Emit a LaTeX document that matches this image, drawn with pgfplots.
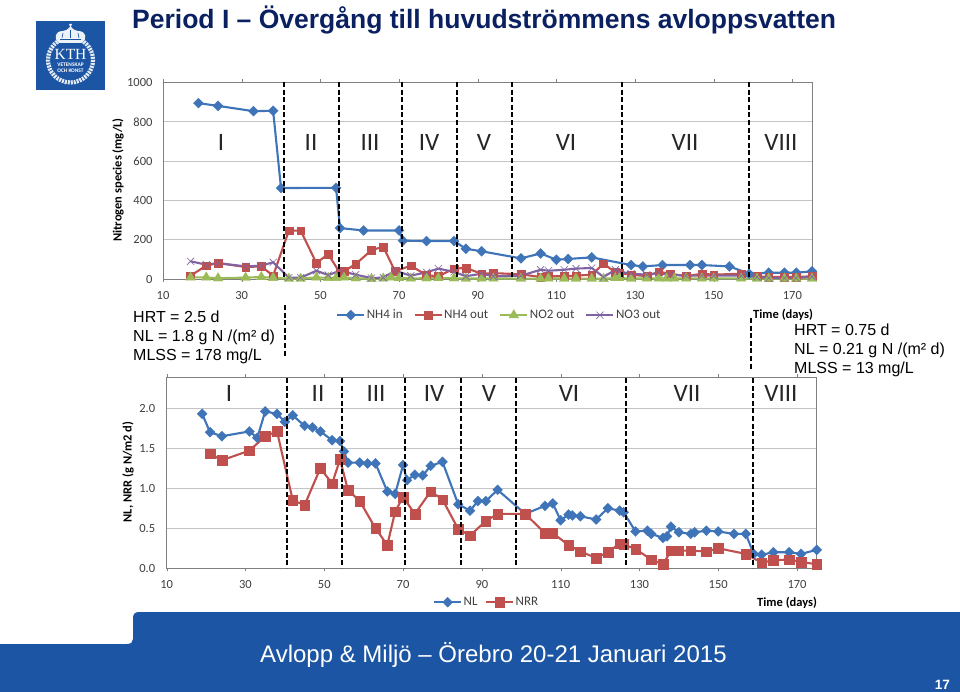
\documentclass[border=0pt]{standalone}
\usepackage{fontspec}
\usepackage{pgfplots}
\pgfplotsset{compat=1.18}
\setmainfont{Carlito}
\newfontfamily\arial{Liberation Sans}
\definecolor{kthblue}{HTML}{1C55A3}
\definecolor{navy}{HTML}{0A2060}
\definecolor{cblue}{HTML}{3F75B8}
\definecolor{cred}{HTML}{C0504D}
\definecolor{cgreen}{HTML}{9BBB59}
\definecolor{cpurple}{HTML}{8064A2}
\definecolor{axgray}{HTML}{808080}
\definecolor{gridgray}{HTML}{C4C4C4}
\definecolor{ticktext}{HTML}{404040}
\pgfplotsset{
  chartbase/.style={
    scale only axis, clip=false,
    xmin=10, xmax=175,
    xtick={10,30,50,70,90,110,130,150,170},
    tick align=outside, major tick length=3pt,
    ytick style={draw=none},
    xtick style={axgray},
    axis line style={axgray, line width=0.8pt},
    ymajorgrids, grid style={gridgray, line width=0.9pt},
    tick label style={font=\fontsize{12.5}{14}\selectfont, text=ticktext},
    /pgf/number format/assume math mode=true,
    /pgf/number format/1000 sep={},
    xticklabel style={/pgf/number format/precision=0, /pgf/number format/fixed, yshift=-6pt},
    legend cell align=left,
    legend style={draw=none, fill=none, inner sep=0pt, font=\fontsize{13}{14}\selectfont, text=ticktext,
      nodes={inner xsep=1.5pt}},
    line legend,
    legend image code/.code={\draw[mark repeat=2,mark phase=2,##1] plot coordinates {(0pt,0pt)(13.5pt,0pt)(27pt,0pt)};},
  },
  sblue/.style={cblue, line width=2.1pt, mark=diamond*, mark size=#1, mark options={fill=cblue, draw=cblue, xscale=1.33, line width=0.3pt, solid}},
  sred/.style={cred, line width=2.1pt, mark=square*, mark size=#1, mark options={fill=cred, draw=cred, line width=0.3pt, solid}},
  sgreen/.style={cgreen, line width=2.1pt, mark=triangle*, mark size=5.6pt, mark options={fill=cgreen, draw=cgreen, line width=0.3pt, solid}},
  spurple/.style={cpurple, line width=2.1pt, mark=x, mark size=5pt, mark options={draw=cpurple, line width=0.6pt, solid}},
}
\begin{document}
\begin{tikzpicture}
% canvas and furniture
\begin{scope}[x=1pt,y=-1pt]
\path[use as bounding box, fill=white] (0,0) rectangle (960,692);
\fill[kthblue] (0,692) -- (0,644) -- (127,644) .. controls (131,644) and (133,642) .. (133,639) -- (133,618) .. controls (133,614) and (135,612) .. (139,612) -- (960,612) -- (960,692) -- cycle;
\node[anchor=base west, inner sep=0pt, text=navy, font={\arial\bfseries\fontsize{26.5}{30}\selectfont}] at (132,29) {Period I – Övergång till huvudströmmens avloppsvatten};
\node[anchor=base west, inner sep=0pt, text=white, font={\arial\fontsize{24}{26}\selectfont}] at (260,662) {Avlopp \& Miljö – Örebro 20-21 Januari 2015};
\node[anchor=base east, inner sep=0pt, text=white, font={\arial\bfseries\fontsize{13.5}{15}\selectfont}] at (950,689) {17};
% logo
\fill[kthblue] (36,21) rectangle (105,90);
\draw[white!88!kthblue, line width=4.2pt, dash pattern=on 2pt off 1pt] (70.5,60) circle[radius=22.5];
\fill[white!92!kthblue] (59,43) .. controls (53,38) and (55,31) .. (63,31) .. controls (66,30) and (68,30) .. (70,27) -- (69,24) -- (72,24) -- (71,27) .. controls (73,30) and (75,30) .. (78,31) .. controls (86,31) and (88,38) .. (82,43) -- cycle;
\draw[kthblue, line width=0.6pt] (60,39.5) -- (81,39.5) (63,33) -- (62,38) (70.5,30) -- (70.5,38) (78,33) -- (79,38);
\node[text=white, inner sep=0pt, font={\fontspec{Liberation Serif}\fontsize{15.5}{15}\selectfont}] at (70.5,54) {KTH};
\node[text=white, inner sep=0pt, font={\bfseries\fontsize{5.4}{6}\selectfont}] at (70.5,64.5) {VETENSKAP};
\node[text=white, inner sep=0pt, font={\bfseries\fontsize{5.4}{6}\selectfont}] at (70.5,70.5) {OCH KONST};
\end{scope}

% upper chart
\begin{axis}[chartbase, at={(163pt,-279pt)}, anchor=south west, width=649pt, height=196.5pt,
  ymin=0, ymax=1000, ytick={0,200,400,600,800,1000},
  yticklabel style={xshift=-4pt},
  legend columns=4,
  legend style={at={(axis description cs:0.2665,-0.184)}, anchor=west,
    /tikz/every even column/.append style={column sep=9.5pt}},
]
\addplot[sblue={5pt}] coordinates {(19,895)(24,881)(33,854)(38,856)(40,463)(54,464)(55,259)(61,247)(70,247)(71,195)(77,193)(84,193)(87,154)(91,141)(101,105)(106,130)(110,98)(113,102)(119,110)(129,71)(132,64)(137,71)(144,71)(147,71)(154,64)(159,27)(164,32)(168,32)(171,32)(175,39)};
\addplot[sred={3.9pt}] coordinates {(17,17)(21,68)(24,81)(31,61)(35,64)(38,17)(42,246)(45,246)(49,81)(52,127)(55,30)(56,39)(59,76)(63,147)(66,164)(69,39)(73,68)(77,19)(80,14)(84,53)(87,56)(91,27)(94,30)(101,24)(106,10)(108,14)(112,14)(115,17)(119,22)(122,78)(125,34)(126,30)(129,22)(133,14)(136,37)(139,27)(143,14)(147,27)(150,22)(157,27)(161,14)(164,10)(168,10)(171,10)(175,14)};
\addplot[sgreen] coordinates {(17,8)(21,8)(24,4)(31,7)(35,10)(38,6)(42,2)(45,2)(49,8)(52,6)(54,6)(56,8)(59,4)(63,1)(66,3)(68,8)(70,5)(73,3)(77,4)(80,5)(84,4)(87,2)(91,3)(94,3)(101,2)(106,2)(108,3)(112,2)(115,2)(119,2)(122,1)(125,5)(126,5)(129,2)(133,3)(136,3)(138,3)(140,3)(143,3)(147,3)(150,3)(157,3)(161,2)(164,2)(168,2)(171,2)(175,2)};
\addplot[spurple] coordinates {(17,90)(21,73)(24,81)(31,64)(35,68)(38,85)(42,7)(45,7)(49,42)(52,20)(55,42)(59,22)(63,5)(66,7)(69,42)(73,17)(77,34)(80,53)(84,36)(87,14)(91,27)(94,14)(101,17)(106,47)(108,42)(112,47)(115,53)(119,56)(122,10)(125,47)(126,38)(129,27)(133,22)(136,30)(139,22)(143,17)(147,17)(150,17)(157,17)(161,10)(164,5)(168,5)(171,5)(175,12)};
\legend{NH4 in,NH4 out,NO2 out,NO3 out}
\end{axis}

% lower chart
\begin{axis}[chartbase, at={(166.7pt,-568.3pt)}, anchor=south west, width=650pt, height=191.3pt,
  ymin=0, ymax=2.39, ytick={0,0.5,1,1.5,2},
  yticklabel style={xshift=-5pt, /pgf/number format/fixed, /pgf/number format/fixed zerofill, /pgf/number format/precision=1},
  legend columns=2,
  legend style={at={(axis description cs:0.4095,-0.177)}, anchor=west,
    /tikz/every even column/.append style={column sep=6pt}},
]
\addplot[sblue={5pt}] coordinates {(19,1.93)(21,1.70)(24,1.65)(31,1.71)(33,1.63)(35,1.96)(38,1.93)(40,1.83)(42,1.91)(45,1.78)(47,1.76)(49,1.71)(52,1.60)(54,1.59)(55,1.46)(56,1.32)(59,1.32)(61,1.31)(63,1.31)(66,0.96)(68,0.93)(70,1.29)(71,1.10)(73,1.17)(75,1.16)(77,1.28)(80,1.33)(84,0.80)(87,0.72)(89,0.84)(91,0.84)(94,0.98)(101,0.68)(106,0.78)(108,0.81)(110,0.60)(112,0.67)(113,0.66)(115,0.65)(119,0.61)(122,0.75)(125,0.72)(126,0.70)(129,0.46)(132,0.47)(133,0.43)(136,0.38)(137,0.40)(138,0.52)(140,0.45)(143,0.43)(144,0.45)(147,0.47)(150,0.46)(154,0.43)(157,0.43)(159,0.18)(161,0.17)(164,0.20)(168,0.20)(171,0.18)(175,0.23)};
\addplot[sred={4.8pt}] coordinates {(21,1.43)(24,1.35)(31,1.47)(35,1.65)(38,1.71)(42,0.85)(45,0.79)(49,1.25)(52,1.06)(54,1.36)(56,0.98)(59,0.84)(63,0.50)(66,0.29)(68,0.71)(70,0.89)(73,0.68)(77,0.96)(80,0.86)(84,0.49)(87,0.41)(91,0.59)(94,0.68)(101,0.68)(106,0.44)(108,0.44)(112,0.29)(115,0.21)(119,0.13)(122,0.20)(125,0.31)(126,0.30)(129,0.24)(133,0.11)(136,0.05)(138,0.22)(140,0.22)(143,0.22)(147,0.21)(150,0.25)(157,0.18)(161,0.07)(164,0.10)(168,0.11)(171,0.08)(175,0.05)};
\legend{NL,NRR}
\end{axis}

% annotations
\begin{scope}[x=1pt,y=-1pt]
\foreach \x in {284.3,339,402.3,456.7,512.3,622,749.3}
  \draw[black, line width=2pt, dash pattern=on 5pt off 2.6pt] (\x,82) -- (\x,279);
\draw[black, line width=2pt, dash pattern=on 5pt off 2.6pt] (284.5,305) -- (284.5,358);
\draw[black, line width=2pt, dash pattern=on 5pt off 2.6pt] (751,318) -- (751,370);
\foreach \x in {286.7,342.3,405.3,460.7,515.7,625.7,753}
  \draw[black, line width=2pt, dash pattern=on 5pt off 2.6pt] (\x,378) -- (\x,568);
\foreach \x/\t in {221/I,311/II,370/III,429/IV,484/V,566/VI,685/VII,781/VIII}
  \node[anchor=base, inner sep=0pt, font=\fontsize{25}{28}\selectfont, text=black!85] at (\x,151) {\t};
\foreach \x/\t in {229/I,318/II,376/III,434/IV,489/V,569/VI,687/VII,781/VIII}
  \node[anchor=base, inner sep=0pt, font=\fontsize{25}{28}\selectfont, text=black!85] at (\x,401) {\t};
\node[rotate=90, inner sep=0pt, font=\bfseries\fontsize{12.5}{14}\selectfont] at (118,180) {Nitrogen species (mg/L)};
\node[rotate=90, inner sep=0pt, font=\bfseries\fontsize{12.5}{14}\selectfont] at (128,472) {NL, NRR (g N/m2 d)};
\node[anchor=base west, inner sep=0pt, font=\bfseries\fontsize{12.5}{14}\selectfont] at (753,319) {Time (days)};
\node[anchor=base west, inner sep=0pt, font=\bfseries\fontsize{12.5}{14}\selectfont] at (757,606) {Time (days)};
\foreach \y/\t in {322/{HRT = 2.5 d},341/{NL = 1.8 g N /(m² d)},360/{MLSS = 178 mg/L}}
  \node[anchor=base west, inner sep=0pt, font={\arial\fontsize{16}{18}\selectfont}] at (133,\y) {\t};
\foreach \y/\t in {335/{HRT = 0.75 d},354/{NL = 0.21 g N /(m² d)},373/{MLSS = 13 mg/L}}
  \node[anchor=base west, inner sep=0pt, font={\arial\fontsize{16}{18}\selectfont}] at (794,\y) {\t};
\end{scope}
\end{tikzpicture}
\end{document}
